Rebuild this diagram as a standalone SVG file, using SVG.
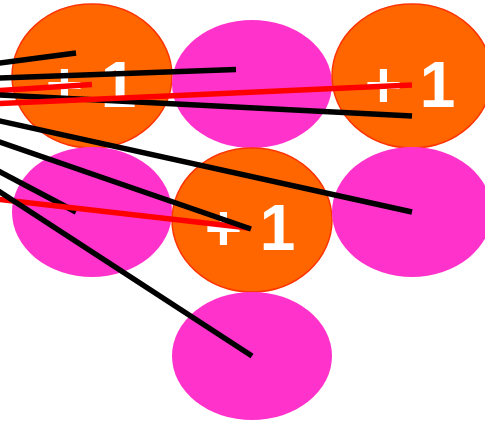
<svg xmlns="http://www.w3.org/2000/svg" width="485" height="421" viewBox="0 0 485 421">
<style>
.o{fill:#FF6600;stroke:#FF3300;stroke-width:1.5}
.p{fill:#FF33CC}
.t{font-family:"Liberation Sans",Arial,sans-serif;font-weight:bold;font-size:64px;fill:#FFFFFF;text-anchor:middle}
.k{stroke:#000000;stroke-width:5.5;fill:none}
.r{stroke:#FF0000;stroke-width:5.5;fill:none}
</style>
<rect width="485" height="421" fill="#FFFFFF"/>
<g id="n1"><ellipse class="o" cx="92" cy="76" rx="80" ry="72"/><text class="t" x="91" y="107">+ 1</text></g>
<g id="n2"><ellipse class="p" cx="252" cy="84" rx="80" ry="64"/></g>
<g id="n3"><ellipse class="o" cx="412" cy="76" rx="80" ry="72"/><text class="t" x="410" y="107">+ 1</text></g>
<g id="n4"><ellipse class="p" cx="92" cy="212" rx="80" ry="65"/></g>
<g id="n5"><ellipse class="o" cx="252" cy="220" rx="80" ry="72"/><text class="t" x="250" y="250">+ 1</text></g>
<g id="n6"><ellipse class="p" cx="412" cy="212" rx="80" ry="65"/></g>
<g id="n7"><ellipse class="p" cx="252" cy="356" rx="80" ry="64"/></g>
<g id="connectors">
<line class="k" x1="-40" y1="68.3" x2="76" y2="53"/>
<line class="k" x1="-40" y1="79.4" x2="236" y2="69.5"/>
<line class="r" x1="-40" y1="93.1" x2="92" y2="84.5"/>
<line class="k" x1="-40" y1="93" x2="412" y2="116"/>
<line class="r" x1="-40" y1="105.3" x2="412" y2="85"/>
<line class="k" x1="-40" y1="112.2" x2="412" y2="212"/>
<line class="k" x1="-40" y1="150.9" x2="76" y2="212"/>
<line class="r" x1="-40" y1="194.8" x2="249" y2="228"/>
<line class="k" x1="-40" y1="128.2" x2="251" y2="229"/>
<line class="k" x1="-40" y1="166" x2="252" y2="356"/>
</g>
</svg>
